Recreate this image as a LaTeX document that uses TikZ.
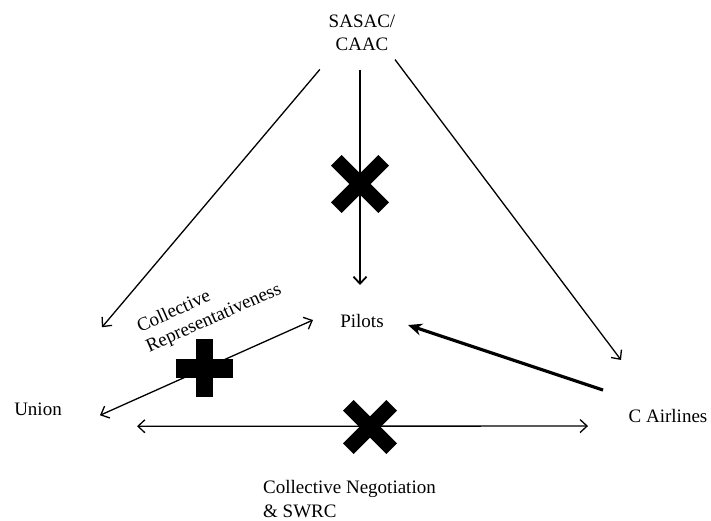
\documentclass[tikz,border=0pt]{standalone}
\usepackage{fontspec}
\setmainfont{Liberation Serif}
\usetikzlibrary{arrows.meta}
\begin{document}
\begin{tikzpicture}[x=1pt,y=-1pt,
  lbl/.style={font=\fontsize{19}{23}\selectfont, inner sep=0pt},
  thinarrow/.style={line width=1.3pt, -{Straight Barb[length=7pt,width=13pt]}},
  midarrow/.style={line width=1.8pt, -{Straight Barb[length=7pt,width=13pt]}},
  twoarrow/.style={line width=1.3pt, {Straight Barb[length=7pt,width=13pt]}-{Straight Barb[length=7pt,width=13pt]}},
  thickarrow/.style={line width=3.2pt, -{Stealth[length=14pt,width=12pt]}},
  crossbar/.style={line width=15pt}]
\useasboundingbox (0,0) rectangle (711,520);

% labels
\node[lbl, anchor=north, align=center] (sasac) at (362,14.5) {SASAC/\\CAAC};
\node[lbl, anchor=base] (pilots) at (362,327) {Pilots};
\node[lbl, anchor=base] (union) at (38,415) {Union};
\node[lbl, anchor=base] (cair) at (668,422) {C Airlines};
\node[lbl, font=\fontsize{19}{22}\selectfont, anchor=north west, align=left, rotate=24] (rep) at (134.7,320.1) {Collective\\Representativeness};
\node[lbl, font=\fontsize{19}{24}\selectfont, anchor=north west, align=left] (cn) at (263,480) {Collective Negotiation\\\& SWRC};

% connectors
\draw[thinarrow, shorten <=48.3pt, shorten >=106.8pt]
  ([xshift=-11pt]sasac.center) -- ([xshift=-5pt]union.center);
\draw[midarrow, shorten <=37pt, shorten >=35.5pt]
  ([xshift=-2pt]sasac.center) -- ([xshift=-2pt]pilots.center);
\draw[thinarrow, shorten <=33.8pt, shorten >=69.5pt]
  ([xshift=12.7pt]sasac.center) -- ([xshift=-5.2pt]cair.center);
\draw[thickarrow, shorten <=68.5pt, shorten >=48.5pt]
  ([yshift=3.8pt]cair.center) -- ([yshift=10.8pt]pilots.center);
\draw[twoarrow, shorten <=67.9pt, shorten >=53.7pt]
  ([yshift=-34.2pt]union.center) -- ([yshift=22.4pt]pilots.center);
\draw[twoarrow, shorten <=99pt, shorten >=80pt]
  ([yshift=-17.5pt]union.center) -- ([yshift=-10.5pt]cair.center);

% crosses
\coordinate (xtop) at (360,184);
\draw[crossbar] (xtop) ++(-23.7,-23.7) -- ++(47.4,47.4);
\draw[crossbar] (xtop) ++(23.7,-23.7) -- ++(-47.4,47.4);
\coordinate (xbot) at (370,427);
\draw[crossbar] (xbot) ++(-21.7,-21.7) -- ++(43.4,43.4);
\draw[crossbar] (xbot) ++(21.7,-21.7) -- ++(-43.4,43.4);
\coordinate (plus) at (204,368);
\draw[line width=19pt] (plus) ++(-28.5,0) -- ++(57,0);
\draw[line width=17pt] (plus) ++(0,-29) -- ++(0,58);
\end{tikzpicture}
\end{document}
